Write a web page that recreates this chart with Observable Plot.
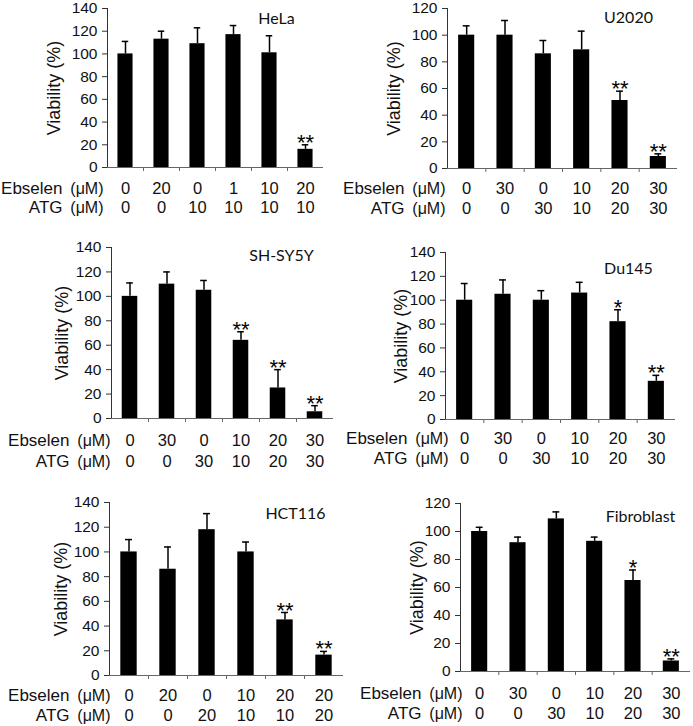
<!DOCTYPE html>
<html><head><meta charset="utf-8">
<script src="https://cdn.jsdelivr.net/npm/d3@7"></script>
<script src="https://cdn.jsdelivr.net/npm/@observablehq/plot@0.6"></script>
<style>
body{margin:0;background:#fff;}
#fig{position:relative;width:693px;height:726px;overflow:hidden;background:#fff;}
#fig svg{position:absolute;overflow:visible;}
</style></head><body><div id="fig"></div>
<script>
// ---- data ----
const cellLines = ["HeLa", "U2020", "SH-SY5Y", "Du145", "HCT116", "Fibroblast"];
const ebselenDoses = [
  [0, 20, 0, 1, 10, 20],
  [0, 30, 0, 10, 20, 30],
  [0, 30, 0, 10, 20, 30],
  [0, 30, 0, 10, 20, 30],
  [0, 20, 0, 10, 20, 20],
  [0, 30, 0, 10, 20, 30]
];
const atgDoses = [
  [0, 0, 10, 10, 10, 10],
  [0, 0, 30, 10, 20, 30],
  [0, 0, 30, 10, 20, 30],
  [0, 0, 30, 10, 20, 30],
  [0, 0, 20, 10, 10, 20],
  [0, 0, 30, 10, 20, 30]
];
const viability = [
  [100, 113, 109, 117, 101, 16],
  [100, 100, 86, 89, 51, 9],
  [100, 110, 105, 64, 25, 5.5],
  [100, 105, 100, 106, 82, 32],
  [100, 86, 118, 100, 45, 16.5],
  [100, 92, 109, 93, 65, 7.5]
];
const errors = [
  [11, 7, 14, 8, 15, 4],
  [7, 11, 10, 14, 7, 2],
  [11, 10, 8, 7, 15, 5],
  [14, 12, 8, 9, 10, 5],
  [10, 18, 13, 8, 6, 3],
  [3, 4, 5, 3, 7.5, 1.5]
];
const significance = [
  ["", "", "", "", "", "**"],
  ["", "", "", "", "**", "**"],
  ["", "", "", "**", "**", "**"],
  ["", "", "", "", "*", "**"],
  ["", "", "", "", "**", "**"],
  ["", "", "", "", "*", "**"]
];
const yMax = [140, 120, 140, 140, 140, 120];
const yLabel = "Viability (%)";
const rowNames = ["Ebselen", "ATG"];
const unitLabel = "(μM)";

// ---- layout (pixels) ----
const layout = [
  {left: 0,   top: 0,   width: 346, height: 220, mt: 8,  mb: 53, ml: 107, mr: 23, r1: 21, r2: 40, unitDx: -4, ylDx: -53, tx: 276, ty: 18},
  {left: 337, top: 0,   width: 356, height: 220, mt: 8,  mb: 52, ml: 110, mr: 16, r1: 20, r2: 40, unitDx: -2, ylDx: -53, tx: 628, ty: 17},
  {left: 0,   top: 235, width: 346, height: 240, mt: 12, mb: 57, ml: 111, mr: 13, r1: 22, r2: 43, unitDx: -1, ylDx: -49, tx: 281, ty: 255},
  {left: 337, top: 235, width: 356, height: 240, mt: 17, mb: 56, ml: 108, mr: 18, r1: 19, r2: 39, unitDx: 3,  ylDx: -44, tx: 628, ty: 268},
  {left: 0,   top: 486, width: 346, height: 240, mt: 16, mb: 51, ml: 109, mr: 3,  r1: 20, r2: 40, unitDx: 1,  ylDx: -48, tx: 295, ty: 513},
  {left: 337, top: 486, width: 356, height: 240, mt: 17, mb: 55, ml: 123, mr: 3,  r1: 22, r2: 42, unitDx: 2,  ylDx: -43, tx: 640, ty: 516}
];

const fig = document.getElementById("fig");
const sans = "'Liberation Sans', Arial, Helvetica, sans-serif";
const valueSize = 16.5;
const nameSize = 17;
const unitSize = 16;

cellLines.forEach((name, p) => {
  const L = layout[p];
  const rows = viability[p].map((v, i) => ({
    pos: i + 1, v, top: v + errors[p][i],
    e: ebselenDoses[p][i], a: atgDoses[p][i], sig: significance[p][i]
  }));
  const ticks = d3.range(0, yMax[p] + 1, 20);
  const bounds = d3.range(1.5, 6, 1);
  const chart = Plot.plot({
    width: L.width, height: L.height,
    marginTop: L.mt, marginBottom: L.mb, marginLeft: L.ml, marginRight: L.mr,
    x: {domain: [0.5, 6.5]},
    y: {domain: [0, yMax[p]]},
    style: {fontFamily: sans, fontSize: "16px", color: "#111", background: "transparent"},
    marks: [
      Plot.ruleX(rows, {x: "pos", y1: "v", y2: "top", stroke: "#000", strokeWidth: 1.5}),
      Plot.ruleY(rows, {y: "top", x1: d => d.pos - 0.09, x2: d => d.pos + 0.09, stroke: "#000", strokeWidth: 1.5}),
      Plot.rect(rows, {x1: d => d.pos - 0.21, x2: d => d.pos + 0.21, y1: 0, y2: "v", fill: "#000"}),
      Plot.text(rows.filter(d => d.sig), {x: "pos", y: "top", text: "sig", dy: -2, fontSize: 22, lineAnchor: "middle", fill: "#000"}),
      Plot.ruleY([0], {stroke: "#666", strokeWidth: 1}),
      Plot.axisX({ticks: bounds, tickSize: 4, tickFormat: () => "", stroke: "#666", label: null}),
      Plot.ruleX([0.5], {stroke: "#333", strokeWidth: 1}),
      Plot.axisY({ticks, tickSize: 5, tickPadding: 5, fontSize: 15.5, label: null, stroke: "#333"}),
      Plot.text([yLabel], {text: d => d, frameAnchor: "left", textAnchor: "middle", rotate: -90, dx: L.ylDx, fontSize: 18, lineAnchor: "middle"}),
      Plot.text(rows, {x: "pos", y: 0, text: "e", dy: L.r1, fontSize: valueSize, lineAnchor: "middle"}),
      Plot.text(rows, {x: "pos", y: 0, text: "a", dy: L.r2, fontSize: valueSize, lineAnchor: "middle"}),
      Plot.text([rowNames[0]], {text: d => d, frameAnchor: "bottom-left", dx: L.unitDx - 41, dy: L.r1, textAnchor: "end", fontSize: nameSize, lineAnchor: "middle"}),
      Plot.text([rowNames[1]], {text: d => d, frameAnchor: "bottom-left", dx: L.unitDx - 41, dy: L.r2, textAnchor: "end", fontSize: nameSize, lineAnchor: "middle"}),
      Plot.text([unitLabel], {text: d => d, frameAnchor: "bottom-left", dx: L.unitDx, dy: L.r1, textAnchor: "end", fontSize: unitSize, lineAnchor: "middle"}),
      Plot.text([unitLabel], {text: d => d, frameAnchor: "bottom-left", dx: L.unitDx, dy: L.r2, textAnchor: "end", fontSize: unitSize, lineAnchor: "middle"}),
      Plot.text([name], {text: d => d, frameAnchor: "top-left", textAnchor: "middle", dx: L.tx - L.left - L.ml, dy: L.ty - L.top - L.mt, fontFamily: "Lato, 'Open Sans', sans-serif", fontSize: 16, lineAnchor: "middle", fill: "#111"})
    ]
  });
  chart.style.left = L.left + "px";
  chart.style.top = L.top + "px";
  fig.appendChild(chart);
});
</script>
</body></html>
